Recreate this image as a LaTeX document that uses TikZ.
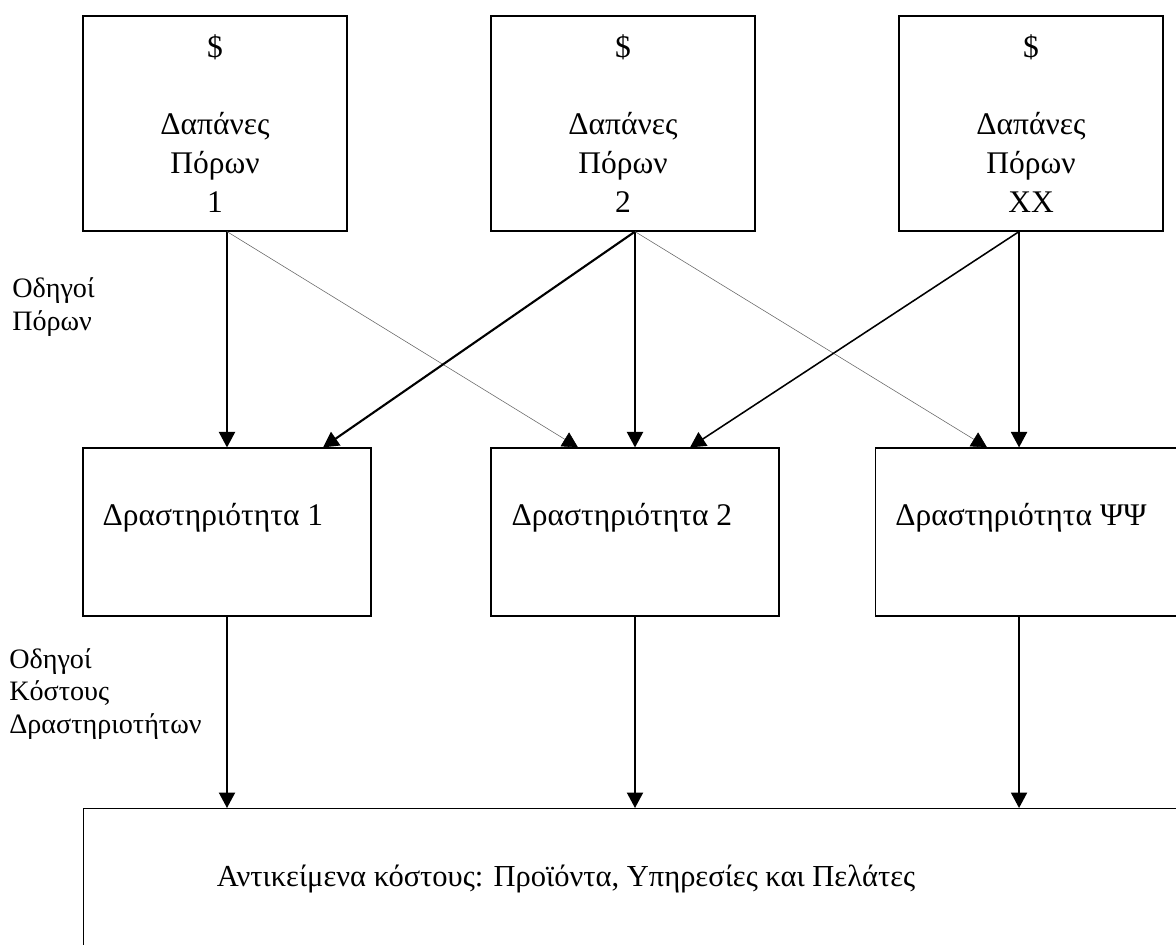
\documentclass[tikz,border=0pt]{standalone}
\usepackage{fontspec}
\setmainfont{Liberation Serif}
\usetikzlibrary{arrows.meta}

\begin{document}
\begin{tikzpicture}[x=0.025cm,y=-0.025cm,
    font=\fontsize{22.4}{23.6}\selectfont,
    box/.style={draw,line width=0.8pt,inner sep=0pt},
    resbox/.style={box,minimum width=6.6cm,minimum height=5.375cm,align=center,
      font=\fontsize{22.4}{27.6}\selectfont},
    actbox/.style={box,minimum width=7.2cm,minimum height=4.2cm},
    flow/.style={line width=1.1pt,-{Triangle[width=11.5pt,length=11pt]}},
    thinflow/.style={line width=0.4pt,black!60,-{Triangle[width=11.5pt,length=11pt,black]}},
    lbl/.style={inner sep=0pt,anchor=west,align=left},
    side/.style={lbl,font=\fontsize{20}{23.4}\selectfont}]
      \useasboundingbox (0,0) rectangle (1176,945);
      \clip (0,0) rectangle (1176,945);
      \node[resbox] (p1) at (215,123.5) {\$\\[27.6pt]Δαπάνες\\Πόρων\\1};
      \node[resbox] (p2) at (623,123.5) {\$\\[27.6pt]Δαπάνες\\Πόρων\\2};
      \node[resbox] (p3) at (1031,123.5) {\$\\[27.6pt]Δαπάνες\\Πόρων\\XX};
      \node[actbox] (a1) at (227,532) {};
      \node[actbox] (a2) at (635,532) {};
      \node[actbox,minimum width=8cm,anchor=west] (a3) at (875,532) {};
      \coordinate (a3in) at ([xshift=3.6cm]a3.north west);
      \node[lbl] (t1) at ([shift={(20,-14)}]a1.west) {Δραστηριότητα 1};
      \node[lbl] (t2) at ([shift={(21,-14)}]a2.west) {Δραστηριότητα 2};
      \node[lbl] (t3) at ([shift={(20,-14)}]a3.west) {Δραστηριότητα ΨΨ};
      % cost objects box runs off the page
      \node[box,minimum width=30cm,minimum height=6cm,anchor=north west] (obj) at (83,808) {};
      \node[font=\fontsize{21.7}{24}\selectfont] (objtxt) at (566,879) {Αντικείμενα κόστους: Προϊόντα, Υπηρεσίες και Πελάτες};
      \node[side] (rd) at (12,307) {Οδηγοί\\Πόρων};
      \node[side] (ad) at (9,694) {Οδηγοί\\Κόστους\\Δραστηριοτήτων};
      \draw[flow] (p1.south -| a1.north) -- (a1.north);
      \draw[thinflow] (p1.south -| a1.north) -- ([xshift=-1.425cm]a2.north);
      \draw[flow,line width=1.5pt] (p2.south -| a2.north) -- ([xshift=2.4cm]a1.north);
      \draw[flow] (p2.south -| a2.north) -- (a2.north);
      \draw[thinflow] (p2.south -| a2.north) -- ([xshift=2.8cm]a3.north west);
      \draw[flow] (p3.south -| a3in) -- ([xshift=1.375cm]a2.north);
      \draw[flow] (p3.south -| a3in) -- (a3in);
      \draw[flow] (a1.south) -- (a1.south |- obj.north);
      \draw[flow] (a2.south) -- (a2.south |- obj.north);
      \draw[flow] (a3in |- a3.south) -- (a3in |- obj.north);
\end{tikzpicture}
\end{document}
